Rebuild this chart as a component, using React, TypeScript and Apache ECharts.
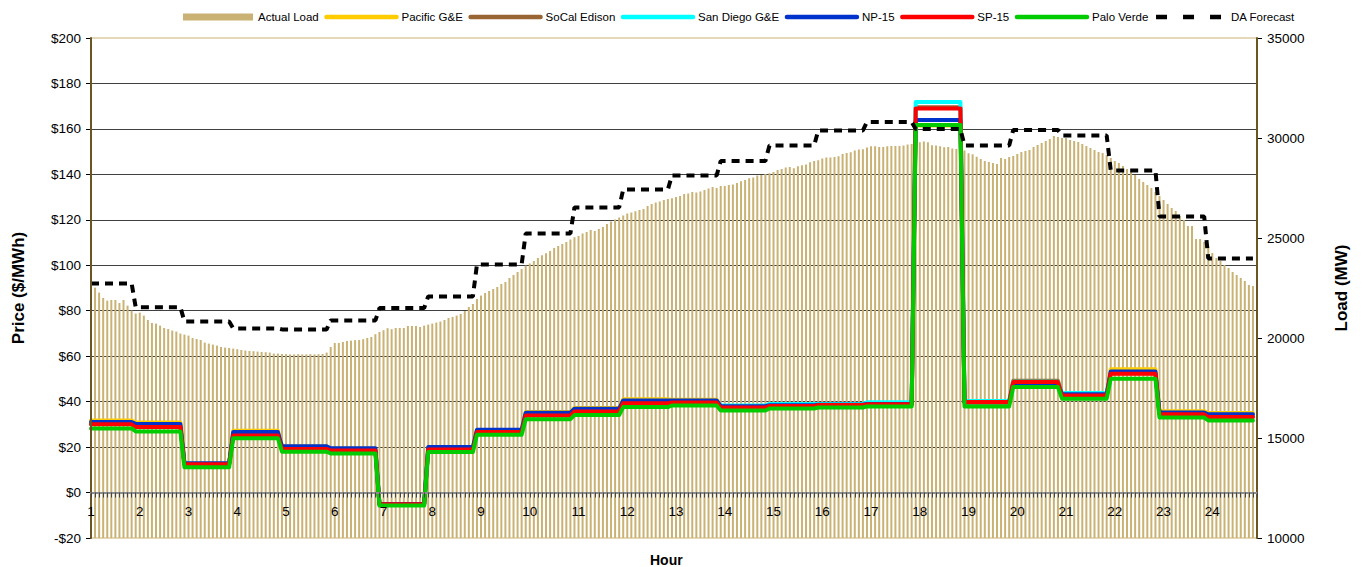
import React, { useEffect, useRef } from 'react';
import * as echarts from 'echarts';

const HOUR_LABELS = ['1','2','3','4','5','6','7','8','9','10','11','12','13','14','15','16','17','18','19','20','21','22','23','24'];

// 5-minute actual load (MW), 288 intervals
const ACTUAL_LOAD = [
  22650,22520,22270,22000,21870,21900,21900,21750,21900,21620,21370,21220,
  21270,21120,20900,20750,20720,20620,20500,20450,20370,20320,20220,20170,
  20120,20000,19950,19900,19770,19720,19670,19620,19550,19520,19500,19470,
  19440,19400,19370,19350,19340,19320,19300,19290,19270,19220,19220,19200,
  19190,19180,19180,19190,19180,19180,19190,19180,19190,19200,19270,19550,
  19750,19750,19800,19850,19870,19890,19900,19940,20000,20050,20190,20300,
  20390,20490,20440,20500,20500,20500,20600,20600,20600,20550,20620,20670,
  20720,20770,20820,20900,21000,21050,21120,21200,21350,21550,21700,21950,
  22120,22250,22350,22450,22550,22700,22800,23000,23150,23300,23450,23620,
  23720,23850,24000,24140,24240,24350,24500,24600,24700,24800,24920,25040,
  25100,25220,25300,25400,25350,25450,25550,25700,25820,25920,26020,26120,
  26220,26270,26340,26400,26450,26600,26700,26770,26820,26900,26950,26990,
  27050,27100,27200,27220,27300,27270,27320,27400,27470,27550,27500,27600,
  27600,27650,27670,27750,27840,27900,27990,28020,28120,28150,28200,28240,
  28300,28400,28450,28520,28550,28490,28590,28640,28670,28790,28850,28890,
  28970,29020,29020,29050,29090,29200,29250,29290,29370,29420,29440,29520,
  29590,29590,29550,29550,29590,29600,29600,29600,29620,29670,29700,29790,
  29790,29820,29790,29640,29620,29590,29540,29550,29470,29450,29420,29370,
  29240,29190,29060,28950,28850,28800,28750,28700,29000,28950,29050,29100,
  29200,29300,29350,29400,29550,29650,29750,29850,29950,30100,30050,30000,
  30000,29900,29850,29800,29700,29600,29500,29400,29300,29250,29150,29000,
  28850,28750,28600,28450,28300,28150,27950,27800,27650,27500,27300,27100,
  26900,26700,26500,26350,26100,25900,25600,25600,24950,24950,24800,24600,
  24250,24000,23850,23650,23500,23300,23150,23000,22850,22650,22600,22400
];

// hourly prices ($/MWh)
const PACIFIC_GE = [31.7,30.8,12.7,27.2,20.3,19.3,-5.1,19.8,27.4,35.4,37.2,41.0,40.8,37.8,38.2,38.5,38.8,161.5,39.4,48.4,43.0,54.2,35.8,35.0];
const SOCAL_EDISON = [30.2,29.0,12.5,25.3,19.4,18.7,-5.2,19.1,26.8,34.1,35.9,39.5,39.8,37.6,38.3,38.6,39.0,169.5,40.0,49.2,43.0,52.5,34.6,33.4];
const SAN_DIEGO_GE = [30.3,29.2,12.6,25.5,19.6,18.8,-5.1,19.2,26.9,34.3,36.0,39.6,40.0,38.3,39.0,39.0,39.7,171.8,40.3,48.8,43.8,52.7,34.8,33.6];
const NP_15 = [31.0,30.2,12.9,26.6,20.4,19.5,-5.0,20.0,27.6,35.1,36.9,40.5,40.5,38.0,38.4,38.6,39.0,163.9,39.6,48.0,43.2,53.3,35.2,34.4];
const SP_15 = [30.0,28.8,12.5,25.1,19.2,18.5,-5.2,18.9,26.6,33.9,35.7,39.3,39.6,37.4,38.1,38.5,38.8,169.0,39.8,48.6,42.7,52.3,34.4,33.2];
const PALO_VERDE = [28.2,26.9,11.1,23.9,18.0,17.2,-5.7,17.8,25.4,32.3,34.1,37.6,38.3,36.1,37.0,37.4,37.9,161.7,37.9,46.4,41.3,50.1,33.0,31.7];
// hourly day-ahead load forecast (MW)
const DA_FORECAST = [22730,21540,20830,20480,20430,20880,21500,22080,23680,25230,26530,27430,28130,28850,29630,30380,30800,30450,29630,30400,30130,28380,26080,23980];

const PRICE_MIN = -20;
const PRICE_MAX = 200;
const LOAD_MIN = 10000;
const LOAD_MAX = 35000;

const INTERVALS_PER_HOUR = 12;
const CATEGORIES = ACTUAL_LOAD.map((_, i) => String(i));

// each hourly value is held for its 12 five-minute intervals
function toSteps(hourly: number[]) {
  return ACTUAL_LOAD.map((_, i) => {
    const h = Math.floor((i + 1) / INTERVALS_PER_HOUR);
    return h < hourly.length ? hourly[h] : null;
  });
}

const FONT = "'Liberation Sans', Arial, sans-serif";
const TAN = '#C9B273';
const FRAME = '#6B5623';

const GRID_TOP = 38;
const GRID_BOTTOM = 29;
const GRID_HEIGHT = 567 - GRID_TOP - GRID_BOTTOM;
// x axis sits at $0 of the price axis
const X_AXIS_OFFSET = -GRID_HEIGHT * (0 - PRICE_MIN) / (PRICE_MAX - PRICE_MIN);

export default function App() {
  const ref = useRef<HTMLDivElement>(null);
  useEffect(() => {
    if (!ref.current) return;
    const chart = echarts.init(ref.current, null, { renderer: 'svg' });
    const priceLine = (name: string, data: number[], color: string) => ({
      name,
      type: 'line',
      yAxisIndex: 0,
      data: toSteps(data),
      symbol: 'none',
      connectNulls: false,
      lineStyle: { color, width: 4, cap: 'round', join: 'round' },
      itemStyle: { color },
    });
    const lineLegend = (name: string) => ({
      name, itemStyle: { opacity: 0 }, lineStyle: { width: 4.5, cap: 'round' },
    });
    chart.setOption({
      animation: false,
      textStyle: { fontFamily: FONT },
      title: {
        text: 'Hour', left: 650, top: 553, padding: 0,
        textStyle: { fontFamily: FONT, fontSize: 14, fontWeight: 'bold', color: '#000' },
      },
      legend: {
        top: 6, left: 178, itemWidth: 70, itemHeight: 7, itemGap: 5.5,
        textStyle: { fontFamily: FONT, fontSize: 11.5, color: '#000' },
        data: [
          { name: 'Actual Load', icon: 'rect' },
          lineLegend('Pacific G&E'),
          lineLegend('SoCal Edison'),
          lineLegend('San Diego G&E'),
          lineLegend('NP-15'),
          lineLegend('SP-15'),
          lineLegend('Palo Verde'),
          { name: 'DA Forecast', itemStyle: { opacity: 0 }, lineStyle: { width: 4.5, type: [11, 16], cap: 'butt' } },
        ],
      },
      grid: { left: 91, right: 105, top: GRID_TOP, bottom: GRID_BOTTOM, show: true, borderColor: TAN, borderWidth: 1 },
      xAxis: {
        type: 'category',
        data: CATEGORIES,
        boundaryGap: false,
        position: 'bottom',
        offset: X_AXIS_OFFSET,
        z: 10,
        axisLine: { onZero: false, lineStyle: { color: '#8C8C8C', width: 2 } },
        axisTick: { show: true, interval: 0, length: 5, lineStyle: { color: '#444', width: 1 } },
        axisLabel: {
          interval: (i: number) => i % INTERVALS_PER_HOUR === 0,
          formatter: (_v: string, i: number) => HOUR_LABELS[i / INTERVALS_PER_HOUR],
          fontSize: 13.5, color: '#000', margin: 12, fontFamily: FONT,
        },
        splitLine: { show: false },
      },
      yAxis: [
        {
          type: 'value', position: 'left', min: PRICE_MIN, max: PRICE_MAX, interval: 20,
          name: 'Price ($/MWh)', nameLocation: 'middle', nameRotate: 90, nameGap: 64,
          nameTextStyle: { fontFamily: FONT, fontSize: 17, fontWeight: 'bold', color: '#000' },
          axisLine: { show: false },
          axisTick: { show: true, length: 5, lineStyle: { color: '#000' } },
          axisLabel: {
            formatter: (v: number) => (v < 0 ? '-$' + -v : '$' + v),
            fontSize: 13.5, color: '#000', margin: 10, fontFamily: FONT,
          },
          splitLine: { show: true, showMinLine: false, showMaxLine: false, lineStyle: { color: '#404040', width: 1 } },
        },
        {
          type: 'value', position: 'right', min: LOAD_MIN, max: LOAD_MAX, interval: 5000,
          name: 'Load (MW)', nameLocation: 'middle', nameRotate: 90, nameGap: 76,
          nameTextStyle: { fontFamily: FONT, fontSize: 17, fontWeight: 'bold', color: '#000' },
          axisLine: { show: false },
          axisTick: { show: true, length: 5, lineStyle: { color: '#000' } },
          axisLabel: { formatter: (v: number) => String(v), fontSize: 13.5, color: '#000', margin: 10, fontFamily: FONT },
          splitLine: { show: false },
        },
        {
          type: 'value', position: 'left', min: PRICE_MIN, max: PRICE_MAX, interval: 20, z: 10,
          axisLine: { show: true, lineStyle: { color: FRAME, width: 2 } },
          axisTick: { show: false }, axisLabel: { show: false }, splitLine: { show: false },
        },
        {
          type: 'value', position: 'right', min: LOAD_MIN, max: LOAD_MAX, interval: 5000, z: 10,
          axisLine: { show: true, lineStyle: { color: FRAME, width: 2 } },
          axisTick: { show: false }, axisLabel: { show: false }, splitLine: { show: false },
        },
      ],
      series: [
        {
          name: 'Actual Load', type: 'bar', yAxisIndex: 1, data: ACTUAL_LOAD,
          barWidth: 2, itemStyle: { color: TAN }, clip: true,
        },
        priceLine('Pacific G&E', PACIFIC_GE, '#FFCC00'),
        priceLine('SoCal Edison', SOCAL_EDISON, '#996633'),
        priceLine('San Diego G&E', SAN_DIEGO_GE, '#00FFFF'),
        priceLine('NP-15', NP_15, '#0033CC'),
        priceLine('SP-15', SP_15, '#FF0000'),
        priceLine('Palo Verde', PALO_VERDE, '#00CC00'),
        {
          name: 'DA Forecast', type: 'line', yAxisIndex: 1, data: toSteps(DA_FORECAST),
          symbol: 'none', connectNulls: false,
          lineStyle: { color: '#000', width: 4, type: [8, 6] },
          itemStyle: { color: '#000' },
        },
      ],
    });
    return () => chart.dispose();
  }, []);
  return (
    <div
      ref={ref}
      style={{ position: 'absolute', left: 0, top: 0, width: 1362, height: 567, background: '#fff' }}
    />
  );
}
